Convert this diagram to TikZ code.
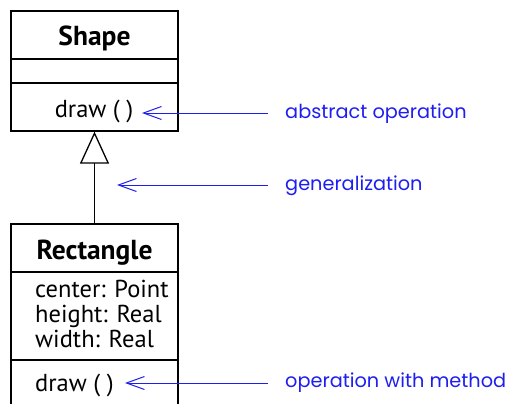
\documentclass[tikz,border=0pt]{standalone}
\usepackage{fontspec}
\setmainfont{PT Sans}
\newfontfamily\labelfont{Poppins}
\usetikzlibrary{arrows.meta}
\definecolor{annot}{RGB}{30,30,240}
\tikzset{
  box/.style={draw=black, line width=1.3pt, minimum width=167pt, inner sep=0pt},
  body/.style={inner sep=0pt, font=\fontsize{24.5}{26}\selectfont},
  txt/.style={body, anchor=base west},
  title/.style={inner sep=0pt, font=\fontsize{27.5}{30}\selectfont\bfseries, anchor=base},
  note/.style={inner sep=0pt, text=annot, font=\labelfont\fontsize{19.3}{22}\selectfont, anchor=west},
  ann/.style={draw=annot, line width=1pt, -{Straight Barb[length=18pt,width=13pt,line width=1pt]}},
}
\begin{document}
\begin{tikzpicture}[x=1pt,y=-1pt]
\useasboundingbox (0,0) rectangle (514,404);
\clip (0,0) rectangle (514,404);
% Shape class
\node[box, minimum height=120pt] (shape) at (94.5,71) {};
\draw[line width=1.3pt] (11,59) -- (178,59) (11,83) -- (178,83);
\node[title] (shapename) at (94.5,46) {Shape};
\node[body, anchor=base] (shapeop) at (94,117) {draw ( )};
% Rectangle class
\node[box, minimum height=200pt] (rect) at (94.5,324) {};
\draw[line width=1.3pt] (11,272) -- (178,272) (11,360) -- (178,360);
\node[title] (rectname) at (94.5,259) {Rectangle};
\node[txt] (a1) at (35,297) {center: Point};
\node[txt] (a2) at (35,322) {height: Real};
\node[txt] (a3) at (35,347) {width: Real};
\node[txt] (rectop) at (35,391) {draw ( )};
% generalization
\draw[line width=1.3pt, -{Triangle[open,length=32pt,width=29pt,line width=1.3pt]}] (rect.north) -- (shape.south);
% annotations
\node[note] (n1) at (285,114) {abstract operation};
\node[note] (n2) at (285,186) {generalization};
\node[note] (n3) at (285,383) {operation with method};
\coordinate (t1) at (142,113);
\coordinate (t2) at (117,185);
\coordinate (t3) at (125,383);
\draw[ann] (268,113) -- (t1);
\draw[ann] (268,185) -- (t2);
\draw[ann] (268,383) -- (t3);
\end{tikzpicture}
\end{document}
